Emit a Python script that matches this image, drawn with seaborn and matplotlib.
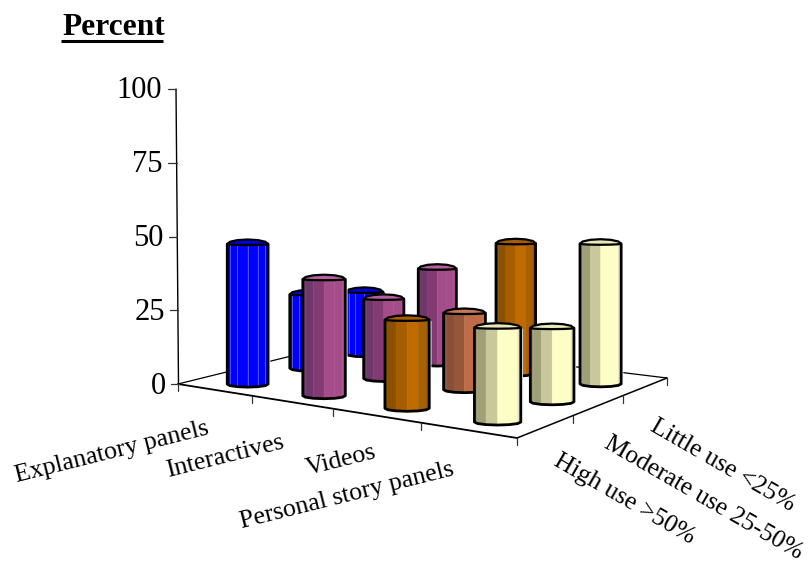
import numpy as np
import matplotlib
matplotlib.use("Agg")
import matplotlib.pyplot as plt
import seaborn as sns

# Survey results: share of exhibits per element type and level of use
categories = ["Explanatory panels", "Interactives", "Videos", "Personal story panels"]
use_levels = ["High use >50%", "Moderate use 25-50%", "Little use <25%"]
high_use = [47.5, 39.5, 30, 32]
moderate_use = [25, 27, 26, 25]
little_use = [21, 32, 44, 47.5]
y_ticks = [0, 25, 50, 75, 100]

sns.set_theme(style="white", rc={"font.family": ["Liberation Serif", "DejaVu Serif"]})

# Facet colours of each column, from its shaded side to its lit side
blue_facets = ["#0000f0", "#0000ff", "#0000ff", "#0000ff", "#0000ff", "#0000f0"]
pink_facets = ["#5f3358", "#70376a", "#843b74", "#a54c8a", "#a54c8a", "#a54c8a"]
orange_facets = ["#7a4a00", "#8c5000", "#a55e00", "#bf6b00", "#a86000", "#8a5000"]
clay_facets = ["#7f4c30", "#8a5035", "#95563a", "#bd6c45", "#bd6c45", "#bd6c45"]
cream_facets = ["#96966f", "#a0a078", "#c8c89a", "#fdfdc8", "#fdfdc8", "#e6e6b4"]
cap_colours = {"blue": "#0000d8", "pink": "#b3609c", "orange": "#a55e00", "clay": "#c47a55", "cream": "#e8e8bc"}

fig, ax = plt.subplots(figsize=(8.1, 5.64), dpi=100)
fig.subplots_adjust(0, 0, 1, 1)
ax.set_xlim(0, 810)
ax.set_ylim(564, 0)
ax.axis("off")

# Perspective of the chart floor: (category, use level) to canvas position
floor_grid = np.array([[0, 0], [4, 0], [4, 3], [0, 3]], float)
floor_canvas = np.array([[178, 384], [517, 438], [667, 378], [356, 340]], float)
rows = []
rhs = []
for (u, v), (px, py) in zip(floor_grid, floor_canvas):
    rows.append([u, v, 1, 0, 0, 0, -u * px, -v * px])
    rows.append([0, 0, 0, u, v, 1, -u * py, -v * py])
    rhs += [px, py]
h = np.append(np.linalg.solve(np.array(rows), np.array(rhs)), 1).reshape(3, 3)


def on_floor(u, v):
    p = h @ np.array([u, v, 1.0])
    return p[0] / p[2], p[1] / p[2]


def nearness(u, v):
    return 1 / (h[2] @ np.array([u, v, 1.0]))


PX_PER_UNIT = 2.95
ZERO_Y = 384
SEAT_DROP = 3.0  # columns sit slightly below the centre of their floor cell


def level_z(level, part):
    return 10 + (2 - level) * 10 + part


def draw_column(cat, level, value, facets, cap, lines=None):
    u, v = cat + 0.5, level + 0.5
    cx, cy = on_floor(u, v)
    cy += SEAT_DROP
    scale = nearness(u, v) / nearness(2, 1.5)
    r = 20.5 * scale
    ey = 3.0
    top = cy - value * PX_PER_UNIT
    t = np.radians(np.arange(180, -1, -30))
    fx, fy = cx + r * np.cos(t), ey * np.sin(t)
    # soft white rim under the column
    ax.fill(np.r_[fx, fx[::-1]] + 1.5, np.r_[top + fy * 0, cy + fy[::-1]] + 1.5, color="white", zorder=level_z(level, 1))
    top_fy = 0.35 * fy
    for i, colour in enumerate(facets):
        ax.fill([fx[i], fx[i + 1], fx[i + 1], fx[i]],
                [top + top_fy[i], top + top_fy[i + 1], cy + fy[i + 1], cy + fy[i]],
                color=colour, lw=0.3, ec=colour, zorder=level_z(level, 2))
        if lines and 0 < i:
            ax.plot([fx[i], fx[i]], [top + top_fy[i], cy + fy[i]], color=lines, lw=0.6, alpha=0.7, zorder=level_z(level, 2.5))
    # lid of the column: shallow at the front, arched at the back
    tc = np.radians(np.arange(0, 361, 30))
    lid_y = np.where(np.sin(tc) > 0, 0.35, 1.5) * ey * np.sin(tc)
    ax.fill(cx + r * np.cos(tc), top + lid_y, fc=cap, ec="black", lw=1.6, zorder=level_z(level, 3))
    # outline of the body
    ax.plot(np.r_[fx[0], fx, fx[-1]], np.r_[top, cy + fy, top], color="black", lw=2.0,
            solid_joinstyle="round", zorder=level_z(level, 4))


# Floor outline and its tick marks
a, b, c, d = floor_canvas
ax.plot([a[0], d[0], c[0]], [a[1], d[1], c[1]], color="black", lw=0.9, zorder=1)
ax.plot([b[0], c[0]], [b[1], c[1]], color="black", lw=1.1, zorder=1)
ax.plot([a[0], b[0]], [a[1], b[1]], color="black", lw=1.3, zorder=1)
for i in range(5):
    px, py = on_floor(i, 0)
    ax.plot([px, px], [py, py + 7], color="#333333", lw=0.9, zorder=1)
for j in range(1, 4):
    px, py = on_floor(4, j)
    ax.plot([px, px], [py, py + 7], color="#333333", lw=0.9, zorder=1)

# Vertical percent axis, leaning slightly with the perspective
ax.plot([176, 178.5], [ZERO_Y - 100 * PX_PER_UNIT, ZERO_Y], color="black", lw=1.0, zorder=1)
for tick in y_ticks:
    y = ZERO_Y - tick * PX_PER_UNIT
    lean = tick * 0.035
    ax.plot([171 - lean, 178.5 - lean * 0.7], [y, y], color="#333333", lw=0.9, zorder=1)
    ax.text(165.5 - lean, y + 9.5, str(tick), ha="right", va="baseline", fontsize=22, color="black")

# Columns, one colour per element type
palette = [("blue", blue_facets), ("pink", pink_facets), ("orange", orange_facets), ("cream", cream_facets)]
series = [high_use, moderate_use, little_use]
for level, values in enumerate(series):
    for cat, value in enumerate(values):
        name, facets = palette[cat]
        if name == "orange" and level == 1:
            name, facets = "clay", clay_facets
        draw_column(cat, level, value, facets, cap_colours[name], lines="#8080ff" if name == "blue" else None)

# Axis captions
ax.text(62, 35, "Percent", fontsize=22.6, fontweight="bold", ha="left", va="baseline", color="black")
ax.plot([61, 163], [40.5, 40.5], color="black", lw=2.2, solid_capstyle="butt")

cat_anchor = [(17, 482), (168, 477), (308, 475), (242, 528)]
for name, (x, y) in zip(categories, cat_anchor):
    ax.text(x, y, name, rotation=14, rotation_mode="anchor", ha="left", va="baseline", fontsize=18.6, color="black")
level_anchor = [(552, 465), (603, 447), (649, 430)]
for name, (x, y) in zip(use_levels, level_anchor):
    ax.text(x, y, name, rotation=-30, rotation_mode="anchor", ha="left", va="baseline", fontsize=18.4, color="black")

fig.savefig("out.png", dpi=100, facecolor="white")
